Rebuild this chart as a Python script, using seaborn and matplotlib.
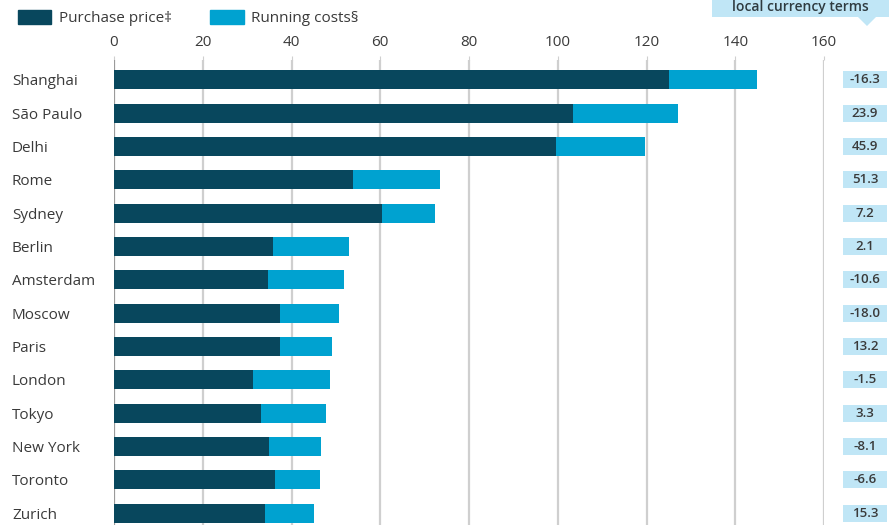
import pandas as pd
import matplotlib.pyplot as plt
import matplotlib.patches as mpatches
import seaborn as sns

# ── Data ─────────────────────────────────────────────────────────────────────
cities = ['Shanghai', 'São Paulo', 'Delhi', 'Rome', 'Sydney', 'Berlin', 'Amsterdam',
          'Moscow', 'Paris', 'London', 'Tokyo', 'New York', 'Toronto', 'Zurich']
purchase = [125.1, 103.4, 99.5, 53.8, 60.3, 35.9, 34.8, 37.4, 37.3, 31.4, 33.1, 34.9, 36.3, 34.0]
running = [19.9, 23.6, 20.2, 19.7, 12.0, 17.1, 17.1, 13.3, 11.9, 17.3, 14.7, 11.7, 10.1, 11.1]
change = ['-16.3', '23.9', '45.9', '51.3', '7.2', '2.1', '-10.6',
          '-18.0', '13.2', '-1.5', '3.3', '-8.1', '-6.6', '15.3']
x_ticks = [0, 20, 40, 60, 80, 100, 120, 140, 160]

df = pd.DataFrame({'city': cities, 'purchase': purchase, 'running': running})
df['total'] = df['purchase'] + df['running']

# ── Style ────────────────────────────────────────────────────────────────────
sns.set_style('white')
plt.rcParams['font.family'] = ['Open Sans', 'DejaVu Sans']
DARK = '#08475d'; LIGHT = '#00a2d0'; PALE = '#c0e6f6'; TXT = '#3a3a3a'; GRID = '#cfcfcf'

fig = plt.figure(figsize=(8.89, 5.25), dpi=100)
ax = fig.add_axes([114 / 889, 0, (824 - 114) / 889, 465 / 525])

sns.barplot(data=df, y='city', x='total', color=LIGHT, orient='h', width=0.57,
            saturation=1, linewidth=0, ax=ax, zorder=3)
sns.barplot(data=df, y='city', x='purchase', color=DARK, orient='h', width=0.57,
            saturation=1, linewidth=0, ax=ax, zorder=4)

ax.set_xlim(0, 160)
ax.set_ylim(13.36, -0.6)
ax.set_xticks(x_ticks)
ax.xaxis.tick_top()
ax.tick_params(axis='x', length=3, color=GRID, labelsize=11, labelcolor=TXT, pad=4)
ax.tick_params(axis='y', length=0, labelsize=11, labelcolor=TXT, pad=0)
for lab in ax.get_yticklabels():
    lab.set_horizontalalignment('left')
    lab.set_x(-102 / 710)
ax.set_xlabel(''); ax.set_ylabel('')
for x in x_ticks:
    ax.axvline(x, color='#9a9a9a' if x == 0 else GRID, linewidth=1.6, zorder=1)
for s in ax.spines.values():
    s.set_visible(False)

# right-hand column of % changes, fixed-width pale boxes
for i, v in enumerate(change):
    yc = ax.transData.transform((0, i))[1] / 525
    fig.patches.append(mpatches.Rectangle((843 / 889, yc - 8.5 / 525), 44 / 889, 17 / 525,
                                          transform=fig.transFigure, fc=PALE, ec='none'))
    fig.text(865 / 889, yc, v, ha='center', va='center',
             fontsize=9.5, fontweight='semibold', color=TXT)

# header box top-right
fig.patches.append(mpatches.Rectangle((712 / 889, 1 - 17 / 525), 177 / 889, 17 / 525,
                                      transform=fig.transFigure, fc=PALE, ec='none'))
fig.patches.append(mpatches.Polygon([(858 / 889, 1 - 17 / 525), (876 / 889, 1 - 17 / 525),
                                     (867 / 889, 1 - 26 / 525)], closed=True,
                                    transform=fig.transFigure, fc=PALE, ec='none'))
fig.text(800 / 889, 1 - 7 / 525, 'local currency terms', ha='center', va='center',
         fontsize=10, fontweight='semibold', color='#2f3b40')

# legend
handles = [mpatches.Patch(color=DARK, label='Purchase price‡'),
           mpatches.Patch(color=LIGHT, label='Running costs§')]
fig.legend(handles=handles, loc='center left', bbox_to_anchor=(4 / 889, 1 - 18 / 525),
           ncol=2, frameon=False, fontsize=11, handlelength=2.2, handleheight=1.0,
           columnspacing=2.5, handletextpad=0.5, labelcolor=TXT)

plt.savefig('out.png', dpi=100)
plt.close()
